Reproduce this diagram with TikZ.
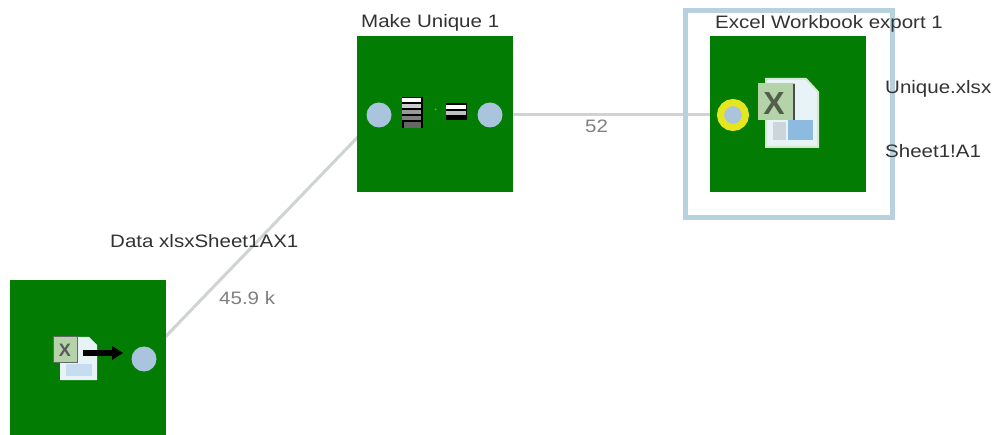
\documentclass[tikz,border=0pt]{standalone}
\usepackage{fontspec}
\setmainfont{Liberation Sans}
\newfontfamily\capfont[FakeStretch=1.14]{Liberation Sans}
\definecolor{boxgreen}{HTML}{027C02}
\definecolor{portblue}{HTML}{A9C4DC}
\definecolor{linegrey}{HTML}{CFD3D3}
\definecolor{framecol}{HTML}{B7D2DE}
\definecolor{iconbluea}{HTML}{E8F3F8}
\definecolor{iconblueb}{HTML}{8DBBE0}
\definecolor{xlgreen}{HTML}{B5D3A8}
\definecolor{xlpale}{HTML}{D4EAD0}
\definecolor{ringyellow}{HTML}{E6E61E}
\tikzset{
  stepbox/.style={draw=none,fill=boxgreen,minimum size=156pt,inner sep=0pt,outer sep=0pt},
  portdot/.style={circle,fill=portblue,minimum size=25pt,inner sep=0pt,outer sep=0pt},
  linkline/.style={draw=linegrey,line width=3pt},
  caption/.style={text=black!80,font=\capfont\fontsize{18}{20}\selectfont,inner sep=0pt,anchor=base west},
  countlabel/.style={text=black!50,font=\capfont\fontsize{18}{20}\selectfont,inner sep=0pt,anchor=base west},
}
\begin{document}
\begin{tikzpicture}[x=1pt,y=-1pt]
\useasboundingbox (0,0) rectangle (998,435);
\fill[white] (0,0) rectangle (998,435);
\coordinate (a) at (144,359);
\coordinate (b) at (379,115);
\coordinate (c) at (490,115);
\coordinate (d) at (733,115);
\draw[linkline] (a) -- (b);
\draw[linkline] (c) -- (d);
\draw[draw=framecol,line width=5pt] (685,11) rectangle (892,218);
\node[stepbox] (src) at (88,358) {};
\node[stepbox] (uniq) at (435,114) {};
\node[stepbox] (xls) at (788,114) {};
\node[portdot] (srcout) at (a) {};
\node[portdot] (uniqin) at (b) {};
\node[portdot] (uniqout) at (c) {};
\node[circle,fill=portblue,draw=ringyellow,line width=7pt,minimum size=25pt,inner sep=0pt] (xlsin) at (d) {};
% source icon
\fill[iconbluea] (60,337) -- (89,337) -- (97,345) -- (97,380) -- (60,380) -- cycle;
\fill[iconblueb!50] (66,364) rectangle (92,376);
\fill[xlgreen,draw=black!60,line width=1pt] (53,337) rectangle (77,362);
\node[font=\bfseries\fontsize{18}{18}\selectfont,text=black!65,inner sep=0pt] (srcx) at (65,350) {X};
\draw[black,line width=6pt] (83,353) -- (113,353);
\fill[black] (112,346) -- (123,353) -- (112,360) -- cycle;
% unique icon
\fill[black] (402,97) rectangle (423,128);
\foreach \yy/\cc in {98/white,104/black!20,110/black!40,116/black!50}{\fill[\cc] (402,\yy) rectangle (421,\yy+4);}
\fill[black!60] (404,122) rectangle (421,128);
\fill[black] (446,103) rectangle (467,120);
\fill[white] (446,105) rectangle (466,109);
\fill[black!25] (446,111) rectangle (466,115);
\fill[boxgreen!60!white] (435.5,109.5) circle (1pt);
% excel icon
\fill[iconbluea,draw=xlpale,line width=2pt] (766,79) -- (806,79) -- (818,92) -- (818,147) -- (766,147) -- cycle;
\fill[black!12!iconbluea] (773,122) rectangle (786,140);
\fill[iconblueb] (788,120) rectangle (813,140);
\fill[xlgreen] (758,83) rectangle (795,120);
\draw[black!70,line width=1.2pt] (794,84) -- (794,120);
\node[font=\bfseries\fontsize{32}{32}\selectfont,text=black!55!xlgreen,inner sep=0pt] (xlsx) at (774,103) {X};
% texts
\node[caption] (t1) at (110,248) {Data xlsxSheet1AX1};
\node[caption] (t2) at (361,28) {Make Unique 1};
\node[caption] (t3) at (715,29) {Excel Workbook export 1};
\node[caption] (t4) at (885,94) {Unique.xlsx};
\node[caption] (t5) at (885,158) {Sheet1!A1};
\node[countlabel] (n1) at (219,305) {45.9 k};
\node[countlabel] (n2) at (585,133) {52};
\end{tikzpicture}
\end{document}
